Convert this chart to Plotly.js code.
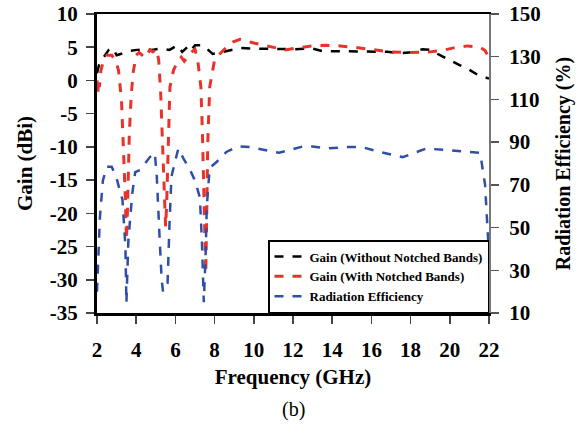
<!DOCTYPE html>
<html><head><meta charset="utf-8">
<script src="https://cdn.plot.ly/plotly-3.0.1.min.js"></script>
<style>html,body{margin:0;padding:0;background:#fff}#c{width:586px;height:434px}</style>
</head><body><div id="c"></div>
<script>
// Gain without notched bands (dBi)
const fBlack = [2.0,2.1,2.3,2.6,2.8,3.0,3.35,3.6,4.05,4.4,4.8,5.2,5.7,6.1,6.35,6.6,6.75,7.0,7.4,7.65,7.9,8.3,8.8,9.3,10,11,12,13,13.5,14.5,16,16.8,17.5,18.2,18.6,19,19.5,20,20.5,21,21.5,22];
const gBlack = [1.1,2.3,3.3,4.6,4.9,3.8,4.1,4.4,4.6,4.7,4.6,4.8,4.6,5.3,4.3,5.0,4.4,5.3,5.3,4.6,4.0,4.2,4.6,4.9,4.8,4.7,4.7,4.8,4.4,4.4,4.4,4.3,4.1,4.3,4.7,4.6,3.8,3.0,2.3,1.6,0.7,0.3];
// Gain with notched bands (dBi)
const fRed = [2.0,2.04,2.08,2.12,2.2,2.35,2.5,2.75,2.95,3.1,3.25,3.35,3.45,3.5,3.55,3.65,3.75,3.85,4.0,4.15,4.45,4.7,4.85,5.05,5.15,5.25,5.35,5.45,5.5,5.55,5.62,5.72,5.9,6.1,6.3,6.45,6.75,7.0,7.15,7.3,7.38,7.45,7.5,7.55,7.6,7.65,7.75,8.0,8.3,8.6,8.95,9.3,10.05,11.0,11.6,12.2,13.0,13.7,14.4,15.4,16.2,16.9,18.0,19.0,19.6,20.2,20.9,21.55,21.8,22];
const gRed = [0.0,-2.2,0.3,-1.0,1.5,3.2,3.8,3.8,3.0,1.5,-3,-10,-18,-24,-20,-8,-2,1.3,3.8,4.2,3.4,4.6,4.3,4.7,3.0,-2,-9,-17,-22,-19,-9.5,-1,1.5,2.8,3.5,2.9,4.1,4.7,2.8,-1,-8,-18,-25,-29,-20,-9.5,-1,3.1,4.1,5.0,5.8,6.2,5.6,5.0,4.6,4.9,5.2,5.3,5.2,4.9,4.6,4.3,4.2,4.3,4.5,4.9,5.2,5.0,4.5,3.4];
// Radiation efficiency (%)
const fEff = [2.0,2.06,2.15,2.3,2.5,2.75,3.0,3.3,3.45,3.5,3.6,3.8,3.95,4.2,4.45,4.7,4.95,5.05,5.2,5.3,5.37,5.6,5.7,5.8,6.0,6.15,6.4,6.75,7.0,7.25,7.35,7.4,7.45,7.55,7.6,7.75,8.1,8.6,9.2,9.8,11.3,12.5,13.0,13.7,14.75,15.5,16.45,17.6,18.8,19.85,21.55,21.8,22.0];
const eEff = [20,34,55,72,78.5,78.5,73,63,41,14.7,44,66,76,77,80,83,85,74,44,25.5,20,24,52,74,81.6,87,82.5,77,72,64,44,25.5,15,39.5,59.6,78,80.7,85.4,88,87.7,85,88,88,87,87.7,87.7,85.4,83,87,86.3,85,70,37];

const xTicks = [2,4,6,8,10,12,14,16,18,20,22];
const gainTicks = [10,5,0,-5,-10,-15,-20,-25,-30,-35];
const effTicks = [10,30,50,70,90,110,130,150];
const serif = "'Liberation Serif', 'Times New Roman', serif";

const traces = [
  {x:fBlack, y:gBlack, name:"Gain (Without Notched Bands)", type:"scatter", mode:"lines",
   line:{color:"#000000", width:2.5, dash:"dash"}},
  {x:fRed, y:gRed, name:"Gain (With Notched Bands)", type:"scatter", mode:"lines",
   line:{color:"#e8332a", width:3, dash:"dash"}},
  {x:fEff, y:eEff, name:"Radiation Efficiency", type:"scatter", mode:"lines", yaxis:"y2",
   line:{color:"#2f4ea8", width:2.5, dash:"dash"}}
];

const layout = {
  width:586, height:434,
  margin:{l:97, r:97, t:14, b:121},
  paper_bgcolor:"#fff", plot_bgcolor:"#fff",
  font:{family:serif, color:"#000"},
  showlegend:true,
  legend:{x:1, xanchor:"right", y:0, yanchor:"bottom", bgcolor:"#fff",
    bordercolor:"#000", borderwidth:1.5, font:{family:serif, size:13, weight:"bold"},
    tracegroupgap:0, itemwidth:30},
  xaxis:{range:[2,22], tickvals:xTicks, ticktext:xTicks.map(String), ticks:"outside", ticklen:8, tickwidth:1.5,
    showline:true, linewidth:2.5, linecolor:"#000", mirror:true, showgrid:false, zeroline:false,
    tickfont:{family:serif, size:21, weight:"bold"}, ticklabelstandoff:8,
    title:{text:"Frequency (GHz)", font:{family:serif, size:21, weight:"bold"}, standoff:9}},
  yaxis:{range:[-35,10], tickvals:gainTicks, ticktext:gainTicks.map(String), ticks:"outside", ticklen:8, tickwidth:1.5,
    showline:true, linewidth:3, linecolor:"#000", showgrid:false, zeroline:false,
    tickfont:{family:serif, size:21, weight:"bold"}, ticklabelstandoff:4,
    title:{text:"Gain (dBi)", font:{family:serif, size:21, weight:"bold"}, standoff:12}},
  yaxis2:{range:[10,150], tickvals:effTicks, ticktext:effTicks.map(String), overlaying:"y", side:"right", ticks:"outside", ticklen:8, tickwidth:1.5, tickcolor:"#555",
    showline:true, linewidth:2, linecolor:"#777", showgrid:false, zeroline:false,
    tickfont:{family:serif, size:21, weight:"bold"}, ticklabelstandoff:6,
    title:{text:"Radiation Efficiency (%)", font:{family:serif, size:20, weight:"bold"}, standoff:16}},
  annotations:[{text:"(b)", xref:"paper", yref:"paper", x:0.5, y:-0.322, xanchor:"center", yanchor:"middle",
    showarrow:false, font:{family:serif, size:20}}]
};
Plotly.newPlot("c", traces, layout, {displayModeBar:false, staticPlot:true});
</script></body></html>
